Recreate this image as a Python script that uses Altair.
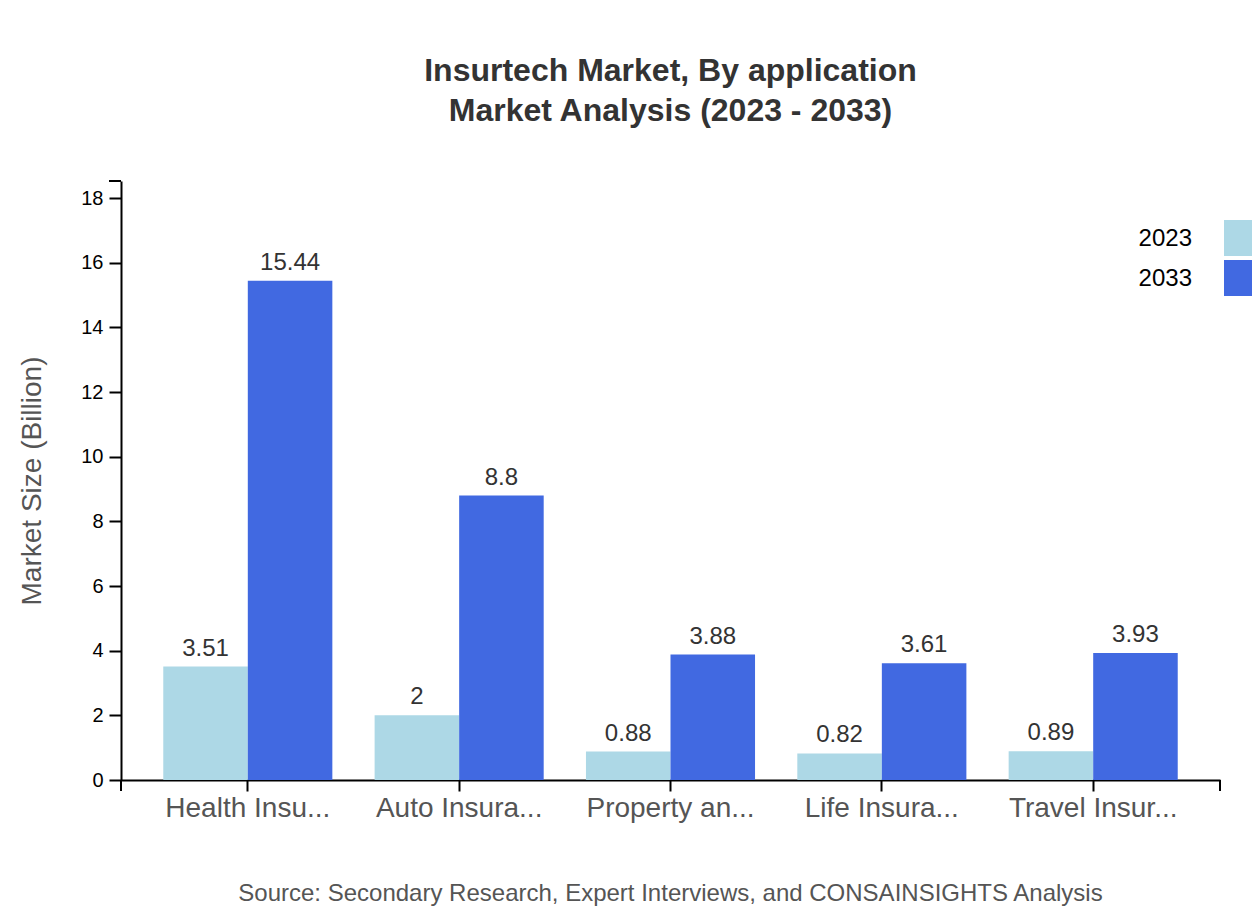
import altair as alt
import pandas as pd

apps = ["Health Insu...", "Auto Insura...", "Property an...", "Life Insura...", "Travel Insur..."]
years = ["2023", "2033"]
values_2023 = [3.51, 2, 0.88, 0.82, 0.89]
values_2033 = [15.44, 8.8, 3.88, 3.61, 3.93]
colors = ["#ADD8E6", "#4169E1"]

rows = []
for a, v1, v2 in zip(apps, values_2023, values_2033):
    rows.append({"app": a, "year": "2023", "value": v1})
    rows.append({"app": a, "year": "2033", "value": v2})
df = pd.DataFrame(rows)

W, H = 1099, 599
FONT = "Liberation Sans"
ymax = max(values_2033) * 1.2
TICK = 12

x_enc = alt.X("app:N", sort=apps, title=None,
              scale=alt.Scale(paddingInner=0.2, paddingOuter=0.2),
              axis=alt.Axis(labelFontSize=28, labelColor="#555555", labelPadding=3,
                            tickSize=TICK - 1, tickColor="black", tickWidth=2,
                            domainColor="black", domainWidth=2, labelAngle=0,
                            labelLimit=300))
xoff = alt.XOffset("year:N", sort=years, scale=alt.Scale(paddingInner=0, paddingOuter=0))
y_enc = alt.Y("value:Q", scale=alt.Scale(domain=[0, ymax], nice=False),
              title="Market Size (Billion)",
              axis=alt.Axis(values=list(range(0, 19, 2)), labelFontSize=20, labelColor="black",
                            tickSize=TICK, tickColor="black", tickWidth=2,
                            domainColor="black", domainWidth=2, grid=False,
                            titleFontSize=28, titleColor="#555555", titleFontWeight="normal",
                            titlePadding=34, labelPadding=6))

base = alt.Chart(df)
bars = base.mark_bar().encode(
    x=x_enc, xOffset=xoff, y=y_enc,
    color=alt.Color("year:N", scale=alt.Scale(domain=years, range=colors), legend=None),
)
labels = base.mark_text(baseline="bottom", dy=-6, fontSize=24, color="#333333").encode(
    x=alt.X("app:N", sort=apps), xOffset=xoff, y="value:Q", text=alt.Text("value:Q")
)

one = pd.DataFrame({"k": [0]})
outer_ticks = [
    alt.Chart(one).mark_rule(color="black", strokeWidth=2).encode(
        x=alt.value(0), y=alt.value(H), y2=alt.value(H + TICK - 1)),
    alt.Chart(one).mark_rule(color="black", strokeWidth=2).encode(
        x=alt.value(W), y=alt.value(H), y2=alt.value(H + TICK - 1)),
    alt.Chart(one).mark_rule(color="black", strokeWidth=2).encode(
        x=alt.value(-TICK), x2=alt.value(0), y=alt.value(0)),
]

legend_layers = []
for i, (yr, c) in enumerate(zip(years, colors)):
    ldf = pd.DataFrame({"year": [yr]})
    top = 39 + i * 40
    legend_layers.append(alt.Chart(ldf).mark_rect(color=c).encode(
        x=alt.value(W + 4), x2=alt.value(W + 40), y=alt.value(top), y2=alt.value(top + 36)))
    legend_layers.append(alt.Chart(ldf).mark_text(align="right", baseline="middle", fontSize=24,
                                                  color="black").encode(
        x=alt.value(W - 28), y=alt.value(top + 19), text="year:N"))

src = alt.Chart(pd.DataFrame({"t": ["Source: Secondary Research, Expert Interviews, and CONSAINSIGHTS Analysis"]})).mark_text(
    align="center", baseline="middle", fontSize=24, color="#555555").encode(
    x=alt.value(W / 2), y=alt.value(713), text="t:N")

chart = alt.layer(bars, labels, *outer_ticks, *legend_layers, src).properties(
    width=W, height=H,
    title=alt.Title(text=["Insurtech Market, By application", "Market Analysis (2023 - 2033)"],
                    fontSize=32, fontWeight="bold", color="#333333", anchor="middle",
                    lineHeight=40, offset=52),
    autosize=alt.AutoSizeParams(type="none"),
    padding={"left": 113, "top": 173, "right": 32, "bottom": 132},
).configure(font=FONT).configure_view(stroke=None)

chart.save("out.html", embed_options={"renderer": "svg", "actions": False})
